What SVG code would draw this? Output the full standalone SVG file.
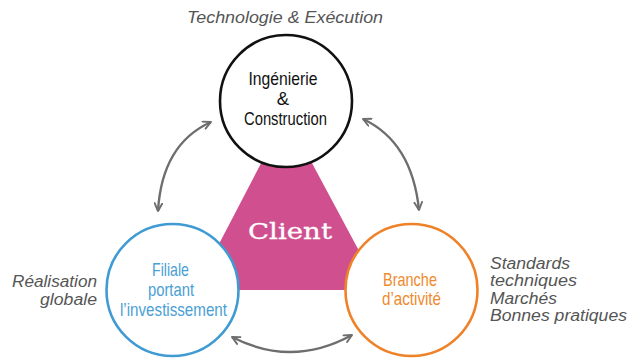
<svg xmlns="http://www.w3.org/2000/svg" width="633" height="358" viewBox="0 0 633 358">
<style>
.node{fill:#fff;stroke-width:2.6}
.lbl{font-family:"Liberation Sans",Arial,sans-serif;font-size:18.5px;text-anchor:middle}
.note{font-family:"Liberation Sans",Arial,sans-serif;font-size:16px;font-style:italic;fill:#555}
.conn{fill:none;stroke:#6e6e6e;stroke-width:2.4;marker-start:url(#ah);marker-end:url(#ah)}
</style>
<defs>
<marker id="ah" viewBox="0 0 10 10" refX="9" refY="5" markerWidth="4" markerHeight="4" orient="auto-start-reverse" markerUnits="strokeWidth">
<path d="M1,1 L9,5 L1,9" fill="none" stroke="#6e6e6e" stroke-width="2" stroke-linecap="round" stroke-linejoin="round"/>
</marker>
</defs>
<rect width="633" height="358" fill="#fff"/>
<g id="client">
<polygon points="268,150 305,150 380,290 195,290" fill="#d0508f"/>
<text x="290" y="239" font-family="'DejaVu Serif',serif" font-size="22.5" fill="#fff" stroke="#fff" stroke-width="0.3" text-anchor="middle" textLength="84" lengthAdjust="spacingAndGlyphs">Client</text>
</g>
<g id="connectors">
<path class="conn" d="M158,211 Q162,144 211,122"/>
<path class="conn" d="M363,119 Q412,142 419,210"/>
<path class="conn" d="M232,337 Q292,368 352,335"/>
</g>
<g id="ingenierie">
<circle class="node" cx="286" cy="101" r="66" stroke="#111"/>
<text class="lbl" fill="#111"><tspan x="283" y="85" textLength="69" lengthAdjust="spacingAndGlyphs">Ingénierie</tspan><tspan x="283" y="105">&amp;</tspan><tspan x="285.5" y="125" textLength="83" lengthAdjust="spacingAndGlyphs">Construction</tspan></text>
</g>
<g id="filiale">
<circle class="node" cx="172.5" cy="290" r="66" stroke="#3f9bd2"/>
<text class="lbl" fill="#4aa0d5"><tspan x="170.5" y="276" textLength="37" lengthAdjust="spacingAndGlyphs">Filiale</tspan><tspan x="171" y="296" textLength="46" lengthAdjust="spacingAndGlyphs">portant</tspan><tspan x="173.5" y="316" textLength="107" lengthAdjust="spacingAndGlyphs">l’investissement</tspan></text>
</g>
<g id="branche">
<circle class="node" cx="411.5" cy="290" r="66" stroke="#ef8228"/>
<text class="lbl" fill="#ef8a2e"><tspan x="410" y="286" textLength="54" lengthAdjust="spacingAndGlyphs">Branche</tspan><tspan x="411.5" y="305" textLength="59" lengthAdjust="spacingAndGlyphs">d’activité</tspan></text>
</g>
<g id="notes">
<text class="note" x="187" y="23" textLength="196" lengthAdjust="spacingAndGlyphs">Technologie &amp; Exécution</text>
<text class="note" text-anchor="end"><tspan x="97" y="287" textLength="85" lengthAdjust="spacingAndGlyphs">Réalisation</tspan><tspan x="97" y="305" textLength="57" lengthAdjust="spacingAndGlyphs">globale</tspan></text>
<text class="note"><tspan x="490" y="268.5" textLength="80" lengthAdjust="spacingAndGlyphs">Standards</tspan><tspan x="490" y="286" textLength="87" lengthAdjust="spacingAndGlyphs">techniques</tspan><tspan x="490" y="303.5" textLength="67" lengthAdjust="spacingAndGlyphs">Marchés</tspan><tspan x="490" y="321" textLength="137" lengthAdjust="spacingAndGlyphs">Bonnes pratiques</tspan></text>
</g>
</svg>
